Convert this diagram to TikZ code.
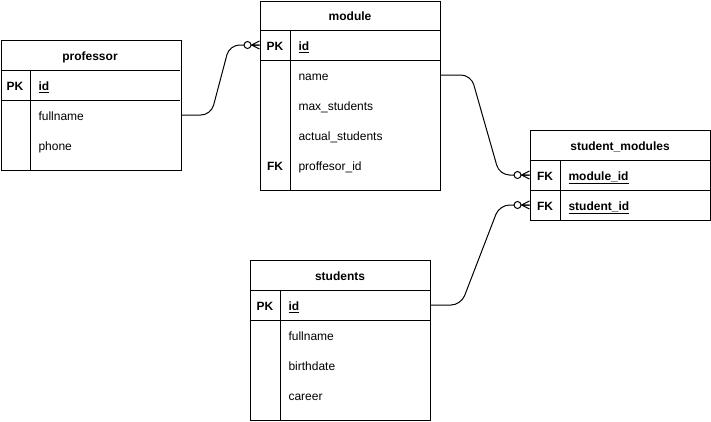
\documentclass[tikz,border=0pt]{standalone}
\usepackage{fontspec}
\setmainfont{Liberation Sans}
\usetikzlibrary{calc}
\begin{document}
\begin{tikzpicture}[x=1pt,y=-1pt,line width=1pt]
\tikzset{
  txt/.style={font=\fontsize{12}{14}\selectfont, inner sep=0pt, text height=10.5pt, text depth=0pt},
  frame/.style={draw, line width=1pt, inner sep=0pt, anchor=north west, minimum width=180pt},
  tabletitle/.style={txt, font=\fontsize{12}{14}\selectfont\bfseries},
  keycell/.style={txt, minimum width=30pt, minimum height=30pt, font=\fontsize{12}{14}\selectfont\bfseries},
  field/.style={txt, anchor=west, minimum height=30pt, text width=134pt, inner xsep=8pt, align=left},
  keyfield/.style={field, font=\fontsize{12}{14}\selectfont\bfseries},
  link/.style={line width=1pt, rounded corners=10pt},
  zmany/.pic={
    \draw[line width=1pt] (-8,0) -- (0,-4) (-8,0) -- (0,4) (-8,0) -- (0,0);
    \draw[line width=1pt, fill=white] (-12,0) circle (3.5pt);
  }
}
\useasboundingbox (0,0) rectangle (711,421);

% ---- professor ----
\node[frame, minimum height=130pt] (prof) at (0.5,40) {};
\node[tabletitle] (prof-title) at (90,55) {professor};
\draw (0.5,70) -- (180,70) (0.5,100) -- (180,100) (30,70) -- (30,170);
\node[keycell] (prof-id-k) at (15,85) {PK};
\node[keyfield] (prof-id) at (30,85) {\underline{id}};
\node[field] (prof-fullname) at (30,115) {fullname};
\node[field] (prof-phone) at (30,145) {phone};

% ---- module ----
\node[frame, minimum height=189.5pt] (mod) at (260,0.5) {};
\node[tabletitle] (mod-title) at (350,15) {module};
\draw (260,30) -- (440,30) (260,60) -- (440,60) (290,30) -- (290,190);
\node[keycell] (m-id-k) at (275,45) {PK};
\node[keyfield] (m-id) at (290,45) {\underline{id}};
\node[field] (m-name) at (290,75) {name};
\node[field] (m-max) at (290,105) {max\_students};
\node[field] (m-actual) at (290,135) {actual\_students};
\node[keycell] (m-prof-k) at (275,165) {FK};
\node[field] (m-prof) at (290,165) {proffesor\_id};

% ---- student_modules ----
\node[frame, minimum width=180pt, minimum height=90pt] (sm) at (530,130) {};
\node[tabletitle] (sm-title) at (620,145) {student\_modules};
\draw (530,160) -- (710,160) (530,190) -- (710,190) (560,160) -- (560,220);
\node[keycell] (sm-mod-k) at (545,175) {FK};
\node[keyfield] (sm-mod) at (560,175) {\underline{module\_id}};
\node[keycell] (sm-stu-k) at (545,205) {FK};
\node[keyfield] (sm-stu) at (560,205) {\underline{student\_id}};

% ---- students ----
\node[frame, minimum height=160pt] (stu) at (250,260) {};
\node[tabletitle] (stu-title) at (340,275) {students};
\draw (250,290) -- (430,290) (250,320) -- (430,320) (280,290) -- (280,420);
\node[keycell] (s-id-k) at (265,305) {PK};
\node[keyfield] (s-id) at (280,305) {\underline{id}};
\node[field] (s-fullname) at (280,335) {fullname};
\node[field] (s-birth) at (280,365) {birthdate};
\node[field] (s-career) at (280,395) {career};

% ---- relationships ----
\draw[link] (prof-fullname.east) -- ++(30,0) -- ($(m-id-k.west)+(-30,0)$) -- (m-id-k.west);
\pic at (m-id-k.west) {zmany};
\draw[link] (m-name.east) -- ++(30,0) -- ($(sm-mod-k.west)+(-30,0)$) -- (sm-mod-k.west);
\pic at (sm-mod-k.west) {zmany};
\draw[link] (s-id.east) -- ++(30,0) -- ($(sm-stu-k.west)+(-30,0)$) -- (sm-stu-k.west);
\pic at (sm-stu-k.west) {zmany};
\end{tikzpicture}
\end{document}
